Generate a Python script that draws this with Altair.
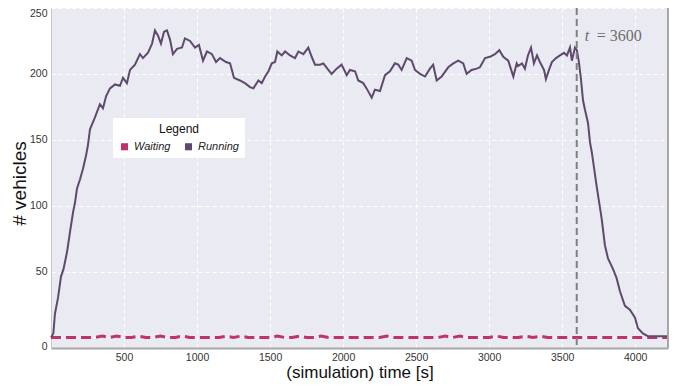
import altair as alt
import pandas as pd

# ---------------- data ----------------
running_t = [0, 16, 27, 48, 68, 86, 110, 130, 151, 164, 178, 199, 219, 240, 253, 267,
             301, 335, 356, 377, 404, 438, 472, 493, 520, 541, 575, 609, 630, 664,
             692, 712, 733, 753, 774, 794, 815, 835, 863, 897, 917, 952, 986, 1013,
             1041, 1068, 1102, 1130, 1157, 1198, 1226, 1253, 1294, 1328, 1363, 1386,
             1420, 1443, 1466, 1489, 1512, 1534, 1550, 1580, 1603, 1637, 1671, 1694,
             1728, 1762, 1785, 1808, 1842, 1865, 1899, 1922, 1956, 1990, 2025, 2047,
             2082, 2104, 2138, 2161, 2196, 2218, 2253, 2287, 2321, 2355, 2378, 2401,
             2436, 2470, 2492, 2527, 2561, 2595, 2617, 2641, 2675, 2720, 2755, 2789,
             2823, 2846, 2880, 2915, 2937, 2972, 3006, 3040, 3070, 3097, 3131, 3166,
             3189, 3198, 3225, 3245, 3266, 3287, 3307, 3328, 3348, 3376, 3389, 3410,
             3430, 3458, 3485, 3513, 3533, 3554, 3567, 3588, 3601, 3615, 3629, 3643,
             3656, 3677, 3691, 3704, 3736, 3771, 3793, 3814, 3848, 3873, 3896, 3930,
             3964, 3999, 4019, 4053, 4087, 4224]
running_v = [0, 3, 18, 30, 46, 52, 65, 80, 95, 102, 113, 120, 128, 138, 146, 158,
             167, 177, 174, 183, 189, 192, 191, 197, 193, 203, 207, 215, 212, 216,
             223, 233, 229, 223, 232, 233, 226, 215, 219, 220, 227, 225, 220, 222,
             210, 217, 215, 209, 212, 209, 208, 197, 195, 193, 190, 189,
             195, 193, 198, 202, 208, 209, 217, 214, 217, 214, 212, 217,
             215, 220, 213, 207, 207, 208, 203, 200, 204, 207, 199, 203,
             202, 195, 193, 189, 182, 188, 187, 199, 202, 208, 207, 203,
             212, 210, 203, 200, 198, 204, 207, 195, 198, 205, 208, 210,
             208, 200, 203, 204, 205, 212, 213, 215, 218, 213, 210, 198,
             208, 206, 208, 204, 214, 220, 208, 214, 209, 203, 196, 203,
             209, 212, 214, 216, 214, 220, 210, 220, 218, 209, 196, 180,
             173, 163, 148, 140, 115, 90, 70, 60, 52, 45, 35, 24,
             21, 15, 7, 3, 1, 1]

waiting_t = list(range(0, 4201, 50)) + [4224]
waiting_v = [0, 0, 0, 0, 0, 0, 0, 1, 0, 1,
             0, 0, 1, 0, 0, 1, 0, 0, 1, 0,
             0, 0, 0, 0, 1, 0, 1, 0, 0, 0,
             0, 1, 0, 0, 1, 0, 0, 1, 0, 0,
             0, 0, 0, 0, 0, 0, 1, 0, 0, 0,
             0, 0, 0, 0, 1, 0, 1, 0, 0, 0,
             0, 1, 0, 0, 0, 1, 0, 1, 0, 0,
             0, 0, 0, 0, 0, 0, 0, 0, 0, 0,
             0, 0, 0, 0, 0, 0]

series_names = ["Waiting", "Running"]
series_colors = ["#C0326C", "#5E4A6C"]
y_ticks = [0, 50, 100, 150, 200, 250]
x_ticks = [500, 1000, 1500, 2000, 2500, 3000, 3500, 4000]
x_domain = [0, 4225]
y_domain = [-8, 250]
marker_t = 3600
marker_label_y = 229

# ---------------- tables ----------------
df = pd.concat([
    pd.DataFrame({"t": running_t, "n": running_v, "series": "Running"}),
    pd.DataFrame({"t": waiting_t, "n": waiting_v, "series": "Waiting"}),
], ignore_index=True)
# off-screen keys used only to draw filled square legend symbols
legend_df = pd.DataFrame({"t": [-1000, -1000], "n": [100, 100], "series": series_names})

FONT = "Liberation Sans"

x_enc = alt.X("t:Q", scale=alt.Scale(domain=x_domain, nice=False, zero=False),
              axis=alt.Axis(title="(simulation) time [s]", values=x_ticks, format="d",
                            grid=True, gridColor="white", gridDash=[4, 3], gridWidth=1,
                            ticks=False, domainColor="#a8a8a8", domainWidth=2,
                            labelFont=FONT, labelFontSize=10.5, labelColor="#333",
                            labelPadding=4, titleFont=FONT, titleFontSize=17,
                            titleFontWeight="normal", titleColor="#111",
                            titlePadding=2))
y_enc = alt.Y("n:Q", scale=alt.Scale(domain=y_domain, nice=False, zero=False),
              axis=alt.Axis(title="# vehicles", values=y_ticks, format="d", grid=True,
                            gridColor="white", gridDash=[4, 3], gridWidth=1,
                            ticks=False, domainColor="#c8c8c8", domainWidth=1,
                            labelFont=FONT, labelFontSize=10.5, labelColor="#333",
                            labelPadding=4,
                            labelOffset={"condition": [
                                {"test": "datum.value == 0", "value": 9},
                                {"test": "datum.value == 250", "value": 5}],
                                "value": 0},
                            titleFont=FONT, titleFontSize=19,
                            titleFontWeight="normal", titleColor="#111",
                            titlePadding=0, titleY=175))

color_scale = alt.Scale(domain=series_names, range=series_colors)
color_noleg = alt.Color("series:N", scale=color_scale, legend=None)
color_leg = alt.Color("series:N", scale=color_scale,
                      legend=alt.Legend(title="Legend", orient="none",
                                        legendX=62, legendY=110,
                                        direction="horizontal",
                                        symbolType="square", symbolSize=50,
                                        symbolStrokeWidth=0,
                                        labelFont=FONT, labelFontSize=11,
                                        labelFontStyle="italic", labelColor="#222",
                                        labelOffset=4, columnPadding=12,
                                        titleFont=FONT, titleFontSize=12,
                                        titleFontWeight="normal", titleColor="#111",
                                        titleAnchor="middle", titleAlign="center",
                                        titlePadding=5,
                                        fillColor="white", padding=6))

base = alt.Chart(df)

running = base.transform_filter(alt.datum.series == "Running").mark_line(
    strokeWidth=2).encode(x=x_enc, y=y_enc, color=color_noleg)

waiting = base.transform_filter(alt.datum.series == "Waiting").mark_line(
    strokeWidth=3, strokeDash=[10, 5]).encode(x=x_enc, y=y_enc, color=color_noleg)

keys = alt.Chart(legend_df).mark_square(filled=True, clip=True, opacity=1).encode(
    x="t:Q", y="n:Q", color=color_leg)

mk = pd.DataFrame({"t": [marker_t], "n": [marker_label_y]})
vline = alt.Chart(mk).mark_rule(color="#808080", strokeWidth=2,
                                strokeDash=[7, 4]).encode(x="t:Q")
lbl_t = alt.Chart(mk).mark_text(text="t", font="Liberation Serif", fontSize=16,
                                fontStyle="italic", color="#6e6e6e",
                                align="left", baseline="middle", dx=8).encode(x="t:Q", y="n:Q")
lbl_v = alt.Chart(mk).mark_text(text="= 3600", font="Liberation Serif", fontSize=16,
                                color="#6e6e6e", align="left", baseline="middle",
                                dx=20).encode(x="t:Q", y="n:Q")

right_edge = alt.Chart(pd.DataFrame({"t": [x_domain[1]]})).mark_rule(
    color="#a8a8a8", strokeWidth=2).encode(x="t:Q")

chart = alt.layer(keys, waiting, running, vline, lbl_t, lbl_v, right_edge).properties(
    width=617, height=340,
    padding={"left": 43, "top": 0, "right": 8, "bottom": 38},
    autosize=alt.AutoSizeParams(type="none"),
    background="white",
).configure_view(fill="#EAEAF2", stroke=None)

chart.save("out.html", embed_options={"renderer": "svg", "actions": False})
